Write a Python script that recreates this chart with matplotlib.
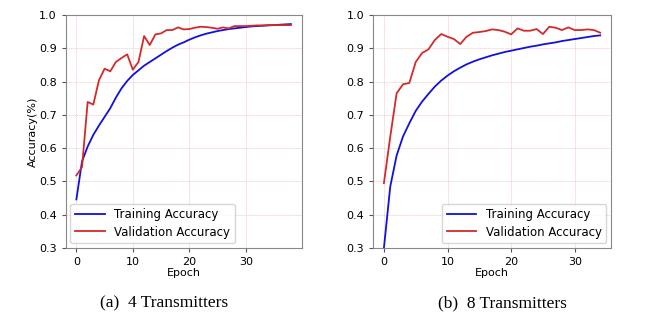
import matplotlib
matplotlib.use("Agg")
import matplotlib.pyplot as plt

# (a) 4 transmitters, 39 epochs
train_4tx = [0.446, 0.560, 0.605, 0.640, 0.668, 0.694, 0.720, 0.752, 0.780, 0.802,
             0.820, 0.834, 0.848, 0.859, 0.870, 0.881, 0.892, 0.902, 0.911, 0.918,
             0.926, 0.933, 0.939, 0.944, 0.948, 0.952, 0.955, 0.958, 0.960, 0.962,
             0.964, 0.966, 0.967, 0.968, 0.969, 0.970, 0.971, 0.972, 0.973]
val_4tx = [0.518, 0.543, 0.739, 0.731, 0.804, 0.839, 0.831, 0.859, 0.871, 0.882,
           0.836, 0.859, 0.937, 0.910, 0.942, 0.945, 0.955, 0.955, 0.963, 0.957,
           0.958, 0.962, 0.965, 0.964, 0.962, 0.959, 0.963, 0.960, 0.967, 0.967,
           0.967, 0.968, 0.969, 0.969, 0.970, 0.970, 0.970, 0.970, 0.970]

# (b) 8 transmitters, 35 epochs
train_8tx = [0.300, 0.485, 0.578, 0.635, 0.675, 0.712, 0.740, 0.763, 0.785, 0.803,
             0.818, 0.831, 0.842, 0.852, 0.860, 0.867, 0.873, 0.879, 0.884, 0.889,
             0.893, 0.897, 0.901, 0.905, 0.908, 0.912, 0.915, 0.918, 0.922, 0.925,
             0.928, 0.931, 0.934, 0.937, 0.939]
val_8tx = [0.495, 0.635, 0.765, 0.792, 0.796, 0.859, 0.886, 0.897, 0.925, 0.943,
           0.935, 0.928, 0.913, 0.935, 0.947, 0.949, 0.952, 0.957, 0.955, 0.950,
           0.942, 0.960, 0.953, 0.953, 0.958, 0.943, 0.965, 0.962, 0.955, 0.963,
           0.955, 0.955, 0.957, 0.955, 0.947]

captions = ["(a)  4 Transmitters", "(b)  8 Transmitters"]
y_ticks = [0.3, 0.4, 0.5, 0.6, 0.7, 0.8, 0.9, 1.0]
x_ticks = [0, 10, 20, 30]

fig = plt.figure(figsize=(6.5, 3.28), dpi=100)
ax_a = fig.add_axes([0.101, 0.244, 0.363, 0.710])
ax_b = fig.add_axes([0.574, 0.244, 0.366, 0.710])


def draw_panel(ax, train, val, legend_loc, with_ylabel):
    ax.plot(range(len(train)), train, color="#1010e0", lw=1.3, label="Training Accuracy")
    ax.plot(range(len(val)), val, color="#d42a2a", lw=1.3, label="Validation Accuracy")
    ax.set_ylim(0.3, 1.0)
    ax.set_yticks(y_ticks)
    ax.set_yticklabels([f"{t:.1f}" for t in y_ticks])
    ax.set_xticks(x_ticks)
    ax.grid(True, color="#eab0b0", lw=0.5, ls=(0, (2, 1)), alpha=0.7)
    ax.tick_params(labelsize=8, color="#555555", length=3)
    for s in ax.spines.values():
        s.set_color("#888888")
    ax.set_xlabel("Epoch", fontsize=8, labelpad=1)
    if with_ylabel:
        ax.set_ylabel("Accuracy(%)", fontsize=8, labelpad=0.5)
    ax.legend(loc=legend_loc, fontsize=8.5, handlelength=2.5, borderaxespad=0.4,
              labelspacing=0.35)


draw_panel(ax_a, train_4tx, val_4tx, "lower left", True)
draw_panel(ax_b, train_8tx, val_8tx, "lower right", False)

fig.text(0.252, 0.075, captions[0], ha="center", va="center",
         family="Liberation Serif", fontsize=12.5)
fig.text(0.773, 0.075, captions[1], ha="center", va="center",
         family="Liberation Serif", fontsize=12.5)

fig.savefig("out.png", dpi=100)
